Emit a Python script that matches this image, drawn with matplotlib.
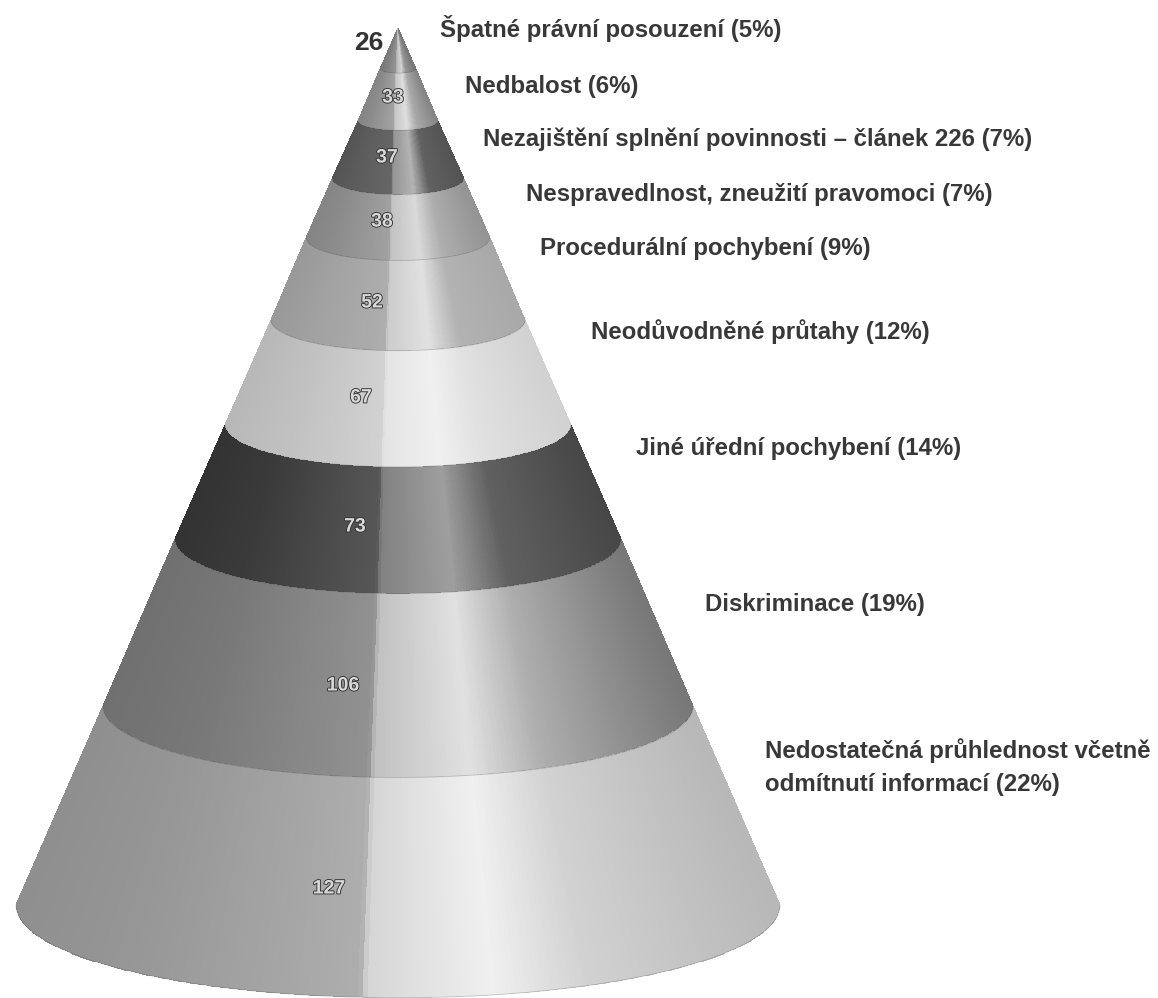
import numpy as np
import matplotlib
matplotlib.use('Agg')
import matplotlib.pyplot as plt
import matplotlib.patheffects as pe

counts = [26, 33, 37, 38, 52, 67, 73, 106, 127]
labels = ['Špatné právní posouzení (5%)',
          'Nedbalost (6%)',
          'Nezajištění splnění povinnosti – článek 226 (7%)',
          'Nespravedlnost, zneužití pravomoci (7%)',
          'Procedurální pochybení (9%)',
          'Neodůvodněné průtahy (12%)',
          'Jiné úřední pochybení (14%)',
          'Diskriminace (19%)',
          'Nedostatečná průhlednost včetně\nodmítnutí informací (22%)']

# gray levels of each band: left edge, left of centre, highlight, past highlight, right edge
band_gray = [[0.47, 0.58, 0.82, 0.58, 0.47],
             [0.52, 0.64, 0.87, 0.66, 0.52],
             [0.33, 0.40, 0.70, 0.38, 0.33],
             [0.52, 0.63, 0.85, 0.68, 0.58],
             [0.60, 0.68, 0.88, 0.70, 0.66],
             [0.72, 0.82, 0.94, 0.88, 0.82],
             [0.20, 0.34, 0.62, 0.38, 0.28],
             [0.44, 0.57, 0.88, 0.68, 0.47],
             [0.56, 0.68, 0.94, 0.82, 0.72]]

# label placement in pixels of the picture
label_x = [440, 465, 483, 526, 540, 591, 636, 705, 765]
label_y = [29, 87, 139, 195, 249, 332, 448, 605, 767]
count_x = [369, 393, 387, 382, 372, 361, 355, 343, 329]
count_y = [43, 98, 158, 222, 303, 398, 527, 686, 889]

W, H = 1158, 998
apex_x, apex_y = 398, 28
px_per_count = 877 / sum(counts)
base_r = 382 / px_per_count
squash = 0.243

fig = plt.figure(figsize=(W / 100, H / 100), dpi=100)
ax = fig.add_axes([0, 0, 1, 1])
ax.set_xlim(-apex_x / px_per_count, (W - apex_x) / px_per_count)
ax.set_ylim((H - apex_y) / px_per_count, -apex_y / px_per_count)
ax.axis('off')

total = sum(counts)
edges = np.cumsum([0] + counts)
theta = np.linspace(-np.pi / 2, np.pi / 2, 241)
mid = (theta[:-1] + theta[1:]) / 2

for i in range(len(counts)):
    h = np.array([edges[i], edges[i + 1]], dtype=float)
    r = base_r * h / total
    X = np.outer(r, np.sin(theta))
    Y = h[:, None] + squash * np.outer(r, np.cos(theta))
    g = band_gray[i]
    shade = np.interp(np.sin(mid),
                      [-1, -0.7, -0.1, -0.08, 0.25, 0.5, 1],
                      [g[0], g[0] + 0.03, g[1], g[1] + 0.6 * (g[2] - g[1]), g[2], g[3], g[4]])
    ax.pcolormesh(X, Y, shade[None, :], cmap='gray', vmin=0, vmax=1,
                  shading='flat', antialiased=False, linewidth=0)
    ax.plot(X[1], Y[1], color='0.3', lw=0.6, alpha=0.3)

for i, n in enumerate(counts):
    if i == 0:
        fig.text(count_x[i] / W, 1 - count_y[i] / H, str(n), ha='center', va='center',
                 fontsize=19, fontweight='bold', family='Liberation Sans', color='0.2')
    else:
        t = fig.text(count_x[i] / W, 1 - count_y[i] / H, str(n), ha='center', va='center',
                     fontsize=14, fontweight='bold', family='Liberation Sans', color='0.85')
        t.set_path_effects([pe.withStroke(linewidth=1.3, foreground='0.2')])

for i, s in enumerate(labels):
    fig.text(label_x[i] / W, 1 - label_y[i] / H, s, ha='left', va='center',
             fontsize=17.3, fontweight='bold', family='Liberation Sans', color='0.22',
             linespacing=1.55)

fig.savefig('out.png', dpi=100, facecolor='white')
